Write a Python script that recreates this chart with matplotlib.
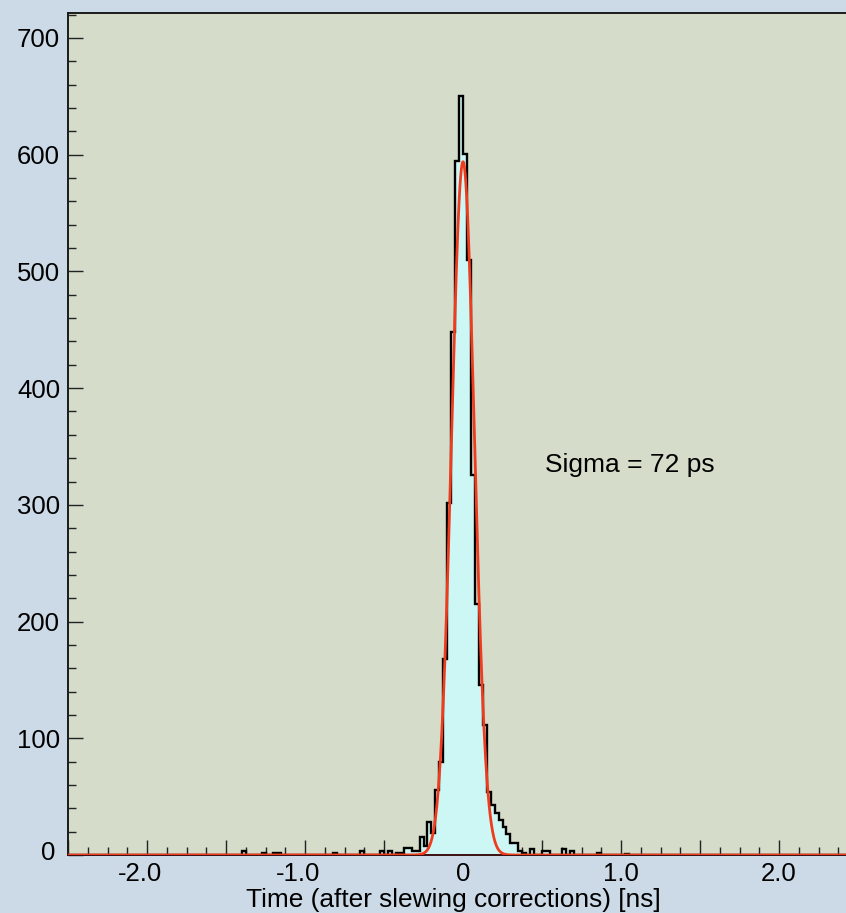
import matplotlib
matplotlib.use("Agg")
import matplotlib.pyplot as plt
import matplotlib.transforms as mtransforms
from matplotlib.ticker import MultipleLocator, NullFormatter
import numpy as np

plt.rcParams['font.family'] = ['Liberation Sans', 'DejaVu Sans']

# histogram: 200 bins of 0.025 ns over [-2.5, 2.5]
hist_lo, hist_hi, n_bins = -2.5, 2.5, 200
# non-empty bins: bin index (0 = [0, 0.025)) -> counts
bin_index = [-56, -51, -48, -47, -33, -26, -21, -19, -17, -16, -15, -14, -13, -12,
             -11, -10, -9, -8, -7, -6, -5, -4, -3, -2, -1,
             0, 1, 2, 3, 4, 5, 6, 7, 8, 9, 10, 11, 12, 13, 14, 15, 17, 20, 21,
             25, 27, 34, 41]
bin_counts = [3, 2, 2, 2, 2, 3, 3, 3, 2, 2, 6, 6, 3, 3,
              15, 8, 28, 19, 56, 80, 168, 302, 448, 595, 650,
              601, 510, 326, 215, 146, 111, 54, 43, 36, 30, 24, 18, 10, 10, 3, 2, 5, 3, 3,
              5, 3, 2, 1]

# gaussian fit
fit_amp, fit_mean, fit_sigma = 594.0, 0.0, 0.072

xtick_vals = [-2.0, -1.0, 0.0, 1.0, 2.0]
xtick_text = ['-2.0', '-1.0', '0', '1.0', '2.0']
ytick_vals = [0, 100, 200, 300, 400, 500, 600, 700]

counts = np.zeros(n_bins)
counts[np.array(bin_index) + n_bins // 2] = bin_counts
edges = np.linspace(hist_lo, hist_hi, n_bins + 1)

fig = plt.figure(figsize=(8.46, 9.13), dpi=100)
fig.patch.set_facecolor('#cbdae6')
ax = fig.add_axes([68 / 846, 58 / 913, 778 / 846, 842 / 913])
ax.set_facecolor('#d5dcc9')

ax.stairs(counts, edges, fill=True, color='#cdf7f5', zorder=2)
ax.stairs(counts, edges, color='black', linewidth=1.7, zorder=3)

xf = np.linspace(hist_lo, hist_hi, 2001)
yf = fit_amp * np.exp(-0.5 * ((xf - fit_mean) / fit_sigma) ** 2)
ax.plot(xf, yf, color='#f03c1e', linewidth=2.0, zorder=4)

ax.set_xlim(-2.5, 2.424)
ax.set_ylim(0, 721.4)

ax.xaxis.set_major_locator(MultipleLocator(0.5))
ax.xaxis.set_minor_locator(MultipleLocator(0.125))
ax.yaxis.set_major_locator(MultipleLocator(100))
ax.yaxis.set_minor_locator(MultipleLocator(20))
ax.xaxis.set_major_formatter(NullFormatter())
ax.yaxis.set_major_formatter(NullFormatter())
ax.tick_params(which='major', direction='in', length=11, width=1.0, color='#222222')
ax.tick_params(which='minor', direction='in', length=5.5, width=1.0, color='#222222')

# tick labels, placed the way the original (ROOT) draws them
px = 1 / 100
xb = mtransforms.blended_transform_factory(ax.transData, ax.transAxes)
for v, t in zip(xtick_vals, xtick_text):
    dx = -7 * px if v < 0 else 0
    off = mtransforms.ScaledTranslation(dx, -7 * px, fig.dpi_scale_trans)
    ax.text(v, 0, t, transform=xb + off, ha='center', va='top', fontsize=18.5,
            clip_on=False)

yb = mtransforms.blended_transform_factory(ax.transAxes, ax.transData)
for v in ytick_vals:
    dx = -13 * px if v == 0 else -8 * px
    dy = 5 * px if v == 0 else 0
    off = mtransforms.ScaledTranslation(dx, dy, fig.dpi_scale_trans)
    ax.text(0, v, str(v), transform=yb + off, ha='right', va='center_baseline',
            fontsize=18.5, clip_on=False)

for s in ['left', 'top', 'bottom']:
    ax.spines[s].set_color('#1a1a1a')
    ax.spines[s].set_linewidth(1.4)
ax.spines['right'].set_visible(False)
ax.spines['bottom'].set_color('#3a1010')

fig.text(453.5 / 846, 1 - 907 / 913, 'Time (after slewing corrections) [ns]',
         fontsize=18.9, ha='center', va='baseline')
ax.text(0.52, 328, 'Sigma = 72 ps', fontsize=19, ha='left', va='baseline')

fig.savefig('out.png', dpi=100)
